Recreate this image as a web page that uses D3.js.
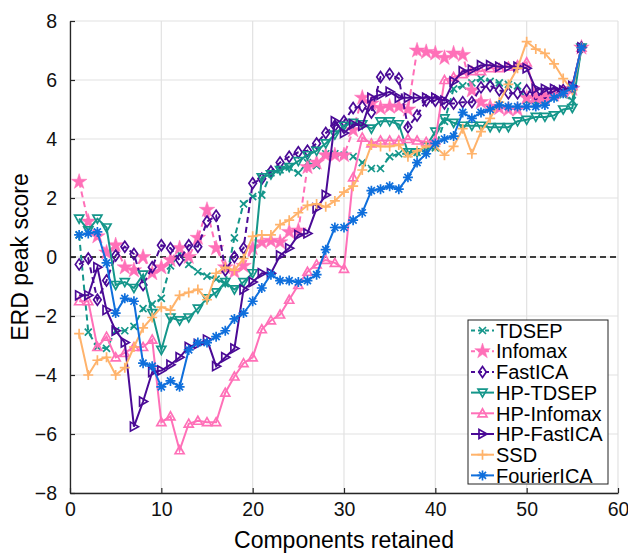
<!DOCTYPE html>
<html>
<head>
<meta charset="utf-8">
<script src="https://cdn.jsdelivr.net/npm/d3@7"></script>
<style>
  body { margin: 0; background: #fff; }
  text { font-family: "Liberation Sans", Arial, sans-serif; }
</style>
</head>
<body>
<div id="chart"></div>
<script>
// components retained (x)
var components = d3.range(1, 57);

var seriesNames = ['TDSEP', 'Infomax', 'FastICA', 'HP-TDSEP', 'HP-Infomax', 'HP-FastICA', 'SSD', 'FourierICA'];

var tdsep = [0.75, -2.55, -3.05, -3.1, -2.5, -2.5, -2.35, -1.75, -1.6, -1.4,
    -0.3, 0.1, -0.25, -0.5, -0.65, -0.75, -0.9, 0.65, 1.8, 2.05,
    2.1, 2.85, 2.95, 3.05, 2.85, 3.2, 3.1, 3.5, 3.5, 3.45,
    3.4, 3.2, 3.0, 3.0, 3.4, 3.5, 3.5, 3.55, 3.6, 3.7,
    4.6, 5.7, 5.8, 5.9, 6.05, 5.95, 5.9, 5.85, 5.8, 5.3,
    5.2, 5.3, 5.4, 5.5, 5.3, 7.1];
var infomax = [2.55, 1.2, 0.7, 0.15, 0.4, -0.35, -0.45, 0.0, -0.55, -0.35,
    -0.1, 0.3, 0.0, 0.65, 1.6, 0.3, -0.35, -0.5, -0.3, 0.3,
    0.5, 0.55, 0.5, 0.85, 0.9, 3.05, 3.2, 3.45, 3.45, 3.45,
    4.3, 5.4, 5.2, 5.05, 5.1, 5.1, 5.0, 7.0, 6.95, 6.9,
    6.75, 6.9, 6.85, 5.65, 5.25, 5.1, 5.05, 5.0, 5.0, 5.4,
    5.4, 5.4, 5.5, 5.6, 5.7, 7.1];
var fastica = [-0.25, -0.05, -1.45, -0.8, 0.05, 0.35, 0.1, -0.95, -0.35, 0.4,
    0.3, -0.1, 0.4, 0.35, 1.2, 1.4, -0.45, 0.0, 0.3, 2.5,
    2.65, 2.9, 3.2, 3.4, 3.55, 3.6, 3.85, 4.2, 4.45, 4.6,
    5.05, 5.1, 4.9, 6.1, 6.2, 6.05, 4.4, 4.8, 5.3, 5.3,
    5.2, 5.2, 5.25, 5.25, 5.75, 5.8, 5.65, 5.55, 5.55, 5.65,
    5.5, 5.55, 5.6, 5.65, 5.75, 7.1];
var hpTdsep = [1.3, 0.9, 1.3, 1.0, -0.95, -0.85, -1.05, -0.6, -1.9, -3.15,
    -2.05, -2.15, -2.05, -1.75, -1.4, -1.2, -0.85, -1.1, -0.85, -0.55,
    2.7, 2.8, 2.95, 3.05, 3.25, 3.45, 3.6, 3.85, 4.15, 4.45,
    4.55, 4.5, 4.35, 4.6, 4.6, 4.5, 3.55, 3.55, 3.75, 4.25,
    4.7, 4.55, 4.45, 4.45, 4.45, 4.4, 4.4, 4.4, 4.6, 4.65,
    4.75, 4.75, 4.8, 5.0, 5.05, 7.1];
var hpInfomax = [-1.5, -1.5, -3.05, -2.7, -3.4, -3.25, -3.05, -3.05, -2.8, -5.6,
    -5.4, -6.55, -5.65, -5.55, -5.6, -5.6, -4.6, -4.05, -3.6, -3.4,
    -2.45, -2.15, -1.95, -1.45, -0.95, -0.5, -0.25, -0.1, -0.2, -0.4,
    2.7, 4.05, 3.85, 3.95, 3.95, 3.95, 4.0, 3.95, 3.9, 3.95,
    6.0, 6.1, 6.2, 6.3, 6.3, 6.4, 6.4, 6.45, 6.5, 6.6,
    5.4, 5.45, 5.5, 5.6, 5.8, 7.1];
var hpFastica = [-1.3, -1.3, -0.35, -1.8, -2.5, -2.9, -5.75, -4.9, -3.9, -3.85,
    -3.65, -3.4, -3.05, -2.95, -2.8, -3.7, -3.4, -3.1, -1.1, -0.85,
    -0.55, -0.55, 0.05, 0.3, 0.75, 0.8, 1.65, 2.1, 4.6, 4.2,
    4.5, 4.45, 5.4, 5.5, 5.6, 5.4, 5.4, 5.4, 5.4, 5.4,
    5.3, 5.95, 6.3, 6.35, 6.5, 6.5, 6.45, 6.45, 6.45, 6.4,
    5.7, 5.7, 5.7, 5.65, 5.8, 7.1];
var ssd = [-2.6, -4.0, -3.5, -3.4, -4.0, -3.75, -3.05, -2.4, -2.05, -1.7,
    -1.8, -1.3, -1.2, -1.1, -1.45, -0.55, -0.35, -0.45, -0.05, 0.7,
    0.75, 0.75, 1.1, 1.25, 1.5, 1.75, 1.8, 1.7, 1.9, 2.2,
    2.4, 2.95, 3.8, 3.75, 3.75, 3.8, 3.4, 3.6, 3.75, 3.75,
    3.45, 3.75, 4.35, 3.5, 4.25, 4.7, 5.25, 5.85, 6.4, 7.3,
    7.05, 6.9, 6.55, 6.05, 5.65, 7.1];
var fourierIca = [0.75, 0.8, 0.85, -0.2, -1.9, -1.4, -1.5, -3.6, -3.7, -4.4,
    -4.2, -4.4, -3.15, -2.9, -2.9, -2.7, -2.5, -2.1, -1.9, -1.5,
    -1.05, -0.6, -0.8, -0.8, -0.85, -0.8, -0.6, 0.25, 1.0, 1.0,
    1.25, 1.5, 2.25, 2.3, 2.4, 2.3, 2.7, 3.2, 3.5, 3.85,
    4.0, 4.1, 4.9, 4.7, 4.9, 5.0, 5.15, 5.1, 5.1, 5.1,
    5.1, 5.15, 5.4, 5.55, 5.75, 7.1];

var xTicks = [0, 10, 20, 30, 40, 50, 60];
var yTicks = [-8, -6, -4, -2, 0, 2, 4, 6, 8];

var teal = '#14968a', pink = '#ff70b8', purple = '#4a0a96', orange = '#ffb36b', blue = '#0f6fdc';

// marker shapes
var star = d3.symbol().type(d3.symbolStar).size(75)();
var markers = {
    x: 'M-3.5,-3.5L3.5,3.5M-3.5,3.5L3.5,-3.5',
    star: star,
    diamond: 'M0,-5.5L3.8,0L0,5.5L-3.8,0Z',
    tdown: 'M-4.5,-3.5L4.5,-3.5L0,4.5Z',
    tup: 'M-4.5,3.5L4.5,3.5L0,-4.5Z',
    tright: 'M-3.5,-4.5L-3.5,4.5L4.5,0Z',
    plus: 'M-5,0H5M0,-5V5',
    ast: 'M-5,0H5M0,-5V5M-3.5,-3.5L3.5,3.5M-3.5,3.5L3.5,-3.5'
};

var series = [
    { name: seriesNames[0], values: tdsep, color: teal, dash: '6,4', marker: 'x', fill: 'none' },
    { name: seriesNames[1], values: infomax, color: pink, dash: '6,4', marker: 'star', fill: pink },
    { name: seriesNames[2], values: fastica, color: purple, dash: '6,4', marker: 'diamond', fill: 'none' },
    { name: seriesNames[3], values: hpTdsep, color: teal, dash: null, marker: 'tdown', fill: 'none' },
    { name: seriesNames[4], values: hpInfomax, color: pink, dash: null, marker: 'tup', fill: 'none' },
    { name: seriesNames[5], values: hpFastica, color: purple, dash: null, marker: 'tright', fill: 'none' },
    { name: seriesNames[6], values: ssd, color: orange, dash: null, marker: 'plus', fill: 'none' },
    { name: seriesNames[7], values: fourierIca, color: blue, dash: null, marker: 'ast', fill: 'none' }
];

var width = 628, height = 555;
var margin = { left: 70, right: 10, top: 21, bottom: 62 };

var svg = d3.select('#chart').append('svg')
    .attr('width', width)
    .attr('height', height);

var x = d3.scaleLinear().domain([0, 60]).range([margin.left, width - margin.right]);
var y = d3.scaleLinear().domain([-8, 8]).range([height - margin.bottom, margin.top]);

// grid
var grid = svg.append('g');
grid.selectAll('.gx').data(xTicks).enter().append('line')
    .attr('x1', d => x(d)).attr('x2', d => x(d))
    .attr('y1', y(-8)).attr('y2', y(8))
    .style('stroke', '#e2e2e2').style('stroke-width', 1.2);
grid.selectAll('.gy').data(yTicks).enter().append('line')
    .attr('x1', x(0)).attr('x2', x(60))
    .attr('y1', d => y(d)).attr('y2', d => y(d))
    .style('stroke', '#e2e2e2').style('stroke-width', 1.2);

// zero line
svg.append('line')
    .attr('x1', x(0)).attr('x2', x(60))
    .attr('y1', y(0)).attr('y2', y(0))
    .style('stroke', '#000').style('stroke-width', 1.3)
    .style('stroke-dasharray', '6,4');

// axes
var xAxis = svg.append('g')
    .attr('transform', 'translate(0,' + y(-8) + ')')
    .call(d3.axisBottom(x).tickValues(xTicks).tickSize(-5).tickSizeOuter(0).tickPadding(9));
var yAxis = svg.append('g')
    .attr('transform', 'translate(' + x(0) + ',0)')
    .call(d3.axisLeft(y).tickValues(yTicks).tickSize(-5).tickSizeOuter(0).tickPadding(13));
[xAxis, yAxis].forEach(function (a) {
    a.select('.domain').style('stroke', '#262626').style('stroke-width', 1.3);
    a.selectAll('.tick line').style('stroke', '#262626').style('stroke-width', 1.2);
    a.selectAll('.tick text').style('font-size', '19.5px').style('fill', '#111')
        .style('font-family', '"Liberation Sans", Arial, sans-serif');
});

// lines and markers
var line = d3.line()
    .x(function (d, i) { return x(components[i]); })
    .y(function (d) { return y(d); });

series.forEach(function (s) {
    var g = svg.append('g');
    g.append('path')
        .attr('d', line(s.values))
        .style('fill', 'none')
        .style('stroke', s.color)
        .style('stroke-width', 2)
        .style('stroke-dasharray', s.dash);
    g.selectAll('path.m')
        .data(s.values)
        .enter()
        .append('path')
        .attr('class', 'm')
        .attr('d', markers[s.marker])
        .attr('transform', function (d, i) { return 'translate(' + x(components[i]) + ',' + y(d) + ')'; })
        .style('fill', s.fill)
        .style('stroke', s.color)
        .style('stroke-width', s.marker === 'star' ? 0.5 : 1.7);
});

// axis labels
svg.append('text')
    .attr('x', (x(0) + x(60)) / 2)
    .attr('y', 548)
    .attr('text-anchor', 'middle')
    .style('font-size', '23px')
    .text('Components retained');
svg.append('text')
    .attr('transform', 'translate(28,' + y(0) + ') rotate(-90)')
    .attr('text-anchor', 'middle')
    .style('font-size', '23px')
    .text('ERD peak score');

// legend
var legend = svg.append('g').attr('transform', 'translate(468,320)');
legend.append('rect')
    .attr('width', 140).attr('height', 164)
    .style('fill', '#fff').style('stroke', '#222').style('stroke-width', 1);
var rows = legend.selectAll('g.row')
    .data(series)
    .enter()
    .append('g')
    .attr('transform', function (d, i) { return 'translate(0,' + (10.5 + i * 20.7) + ')'; });
rows.append('line')
    .attr('x1', 3).attr('x2', 26)
    .style('stroke', d => d.color)
    .style('stroke-width', 2)
    .style('stroke-dasharray', d => d.dash ? '4,3' : null);
rows.append('path')
    .attr('d', d => markers[d.marker])
    .attr('transform', 'translate(14.5,0)')
    .style('fill', d => d.fill)
    .style('stroke', d => d.color)
    .style('stroke-width', d => d.marker === 'star' ? 0.5 : 1.7);
rows.append('text')
    .attr('x', 28)
    .attr('dy', '0.36em')
    .style('font-size', '20px')
    .text(d => d.name);
</script>
</body>
</html>
